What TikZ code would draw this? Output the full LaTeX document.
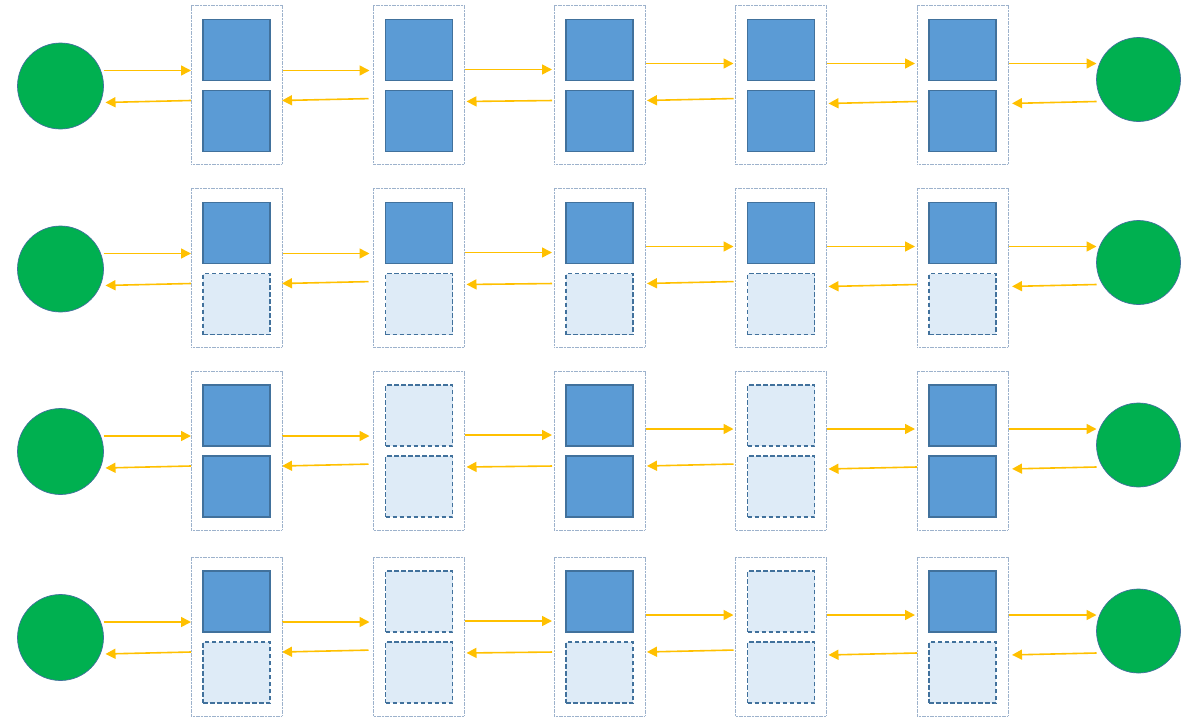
\documentclass[tikz,border=0pt]{standalone}
\usetikzlibrary{arrows.meta,backgrounds}
\definecolor{arrowc}{HTML}{FFC000}
\definecolor{greenc}{HTML}{00B050}
\definecolor{edgec}{HTML}{41719C}
\definecolor{fillc}{HTML}{5B9BD5}
\definecolor{lightc}{HTML}{DEEBF7}
\definecolor{outerc}{HTML}{9DB2CC}
\begin{document}
\begin{tikzpicture}[x=1pt,y=-1pt,
  outerbox/.style={draw=outerc,line width=0.9pt,dash pattern=on 1.2pt off 0.4pt,minimum width=91pt,minimum height=159pt,inner sep=0pt,outer sep=0pt},
  sqF/.style={draw=edgec,fill=fillc,line width=1.1pt,minimum width=67pt,minimum height=61pt,inner sep=0pt,outer sep=0pt},
  sqD/.style={draw=edgec,fill=lightc,line width=1.1pt,dash pattern=on 4.5pt off 2.5pt,minimum width=67pt,minimum height=61pt,inner sep=0pt,outer sep=0pt},
  endpoint/.style={circle,draw=edgec,fill=greenc,line width=0.7pt,inner sep=0pt,outer sep=0pt},
  flow/.style={draw=arrowc,line width=1.6pt,-{Triangle[length=10pt,width=10pt]}}
]
\useasboundingbox (0,0) rectangle (1193,718);
% boxes
\foreach \r/\c/\ts/\bs in {
  1/1/sqF/sqF,1/2/sqF/sqF,1/3/sqF/sqF,1/4/sqF/sqF,1/5/sqF/sqF,
  2/1/sqF/sqD,2/2/sqF/sqD,2/3/sqF/sqD,2/4/sqF/sqD,2/5/sqF/sqD,
  3/1/sqF/sqF,3/2/sqD/sqD,3/3/sqF/sqF,3/4/sqD/sqD,3/5/sqF/sqF,
  4/1/sqF/sqD,4/2/sqD/sqD,4/3/sqF/sqD,4/4/sqD/sqD,4/5/sqF/sqD}{
  \pgfmathsetmacro\t{{5.5,188.5,371,557}[\r-1]}
  \pgfmathsetmacro\x{{236.5,419,599.5,781,962.5}[\c-1]}
  \node[outerbox] (B\r\c) at (\x,{\t+79.5}) {};
  \node[\ts] (T\r\c) at (\x,{\t+44.5}) {};
  \node[\bs] (S\r\c) at (\x,{\t+115.5}) {};
}
% end circles
\foreach \r in {1,...,4}{
  \pgfmathsetmacro\t{{5.5,188.5,371,557}[\r-1]}
  \node[endpoint,minimum size=86pt] (L\r) at (60.5,{\t+80.5}) {};
  \node[endpoint,minimum size=84pt] (R\r) at (1138.5,{\t+74}) {};
}
% arrows
\begin{scope}[on background layer]
\foreach \r in {1,...,4}{
  \pgfmathsetmacro\t{{5.5,188.5,371,557}[\r-1]}
  \foreach \a/\b/\f/\s/\e/\pe/\qs/\qe in {
    L\r/B\r1/65/95/97/0/0/2,
    B\r1/B\r2/65/93/95/4/5/0,
    B\r2/B\r3/64/95/96/2/2/2,
    B\r3/B\r4/58/93/95/2/2/2,
    B\r4/B\r5/58/96/98/2/0/2,
    B\r5/R\r/58/96/98/0/0/4}{
    \draw[flow,shorten >=\pe pt] (\a.east |- 0,{\t+\f}) -- (\b.west |- 0,{\t+\f});
    \draw[flow,shorten <=\qs pt,shorten >=\qe pt] (\b.west |- 0,{\t+\s}) -- (\a.east |- 0,{\t+\e});
  }
}
\end{scope}
\end{tikzpicture}
\end{document}
